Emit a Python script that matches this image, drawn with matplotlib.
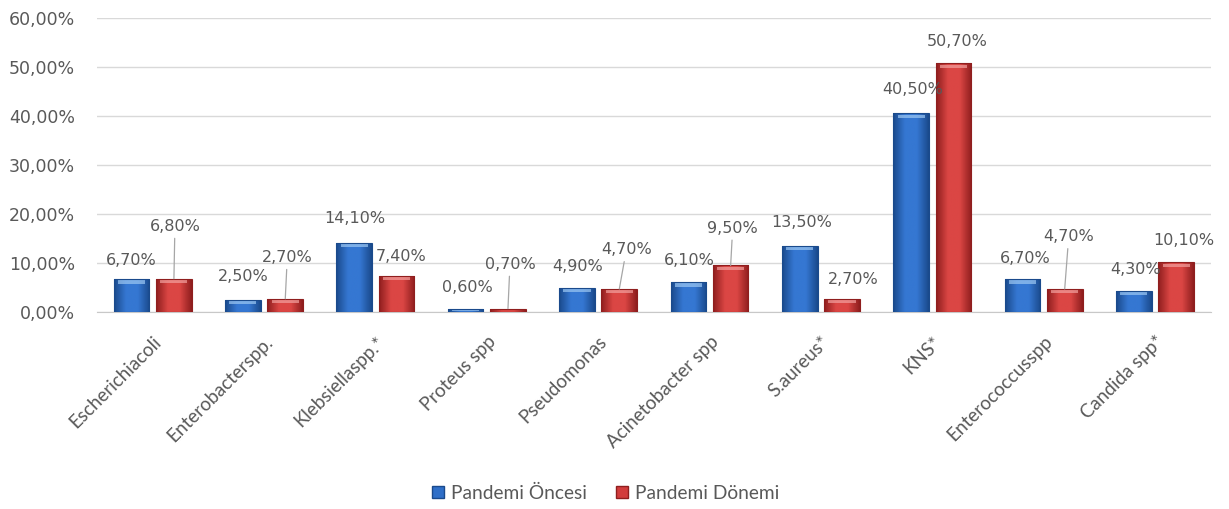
#!/usr/bin/env python3

import numpy as np
import matplotlib
matplotlib.use("Agg")
import matplotlib.pyplot as plt
from matplotlib.colors import LinearSegmentedColormap
from matplotlib.patches import Patch

categories = ["Escherichiacoli", "Enterobacterspp.", "Klebsiellaspp.*", "Proteus spp",
              "Pseudomonas", "Acinetobacter spp", "S.aureus*", "KNS*",
              "Enterococcusspp", "Candida spp*"]
oncesi = [6.7, 2.5, 14.1, 0.6, 4.9, 6.1, 13.5, 40.5, 6.7, 4.3]
donemi = [6.8, 2.7, 7.4, 0.7, 4.7, 9.5, 2.7, 50.7, 4.7, 10.1]
series_names = ["Pandemi Öncesi", "Pandemi Dönemi"]
yticks = [0, 10, 20, 30, 40, 50, 60]

# label placement (pixels from bar top) and leader-line flags
blue_off = [(0, 19), (0, 23), (1, 24), (2, 22), (1, 21), (1, 22), (2, 23), (2, 24), (3, 21), (2, 21)]
red_off = [(1, 52), (2, 41), (5, 19), (2, 44), (7, 39), (2, 37), (11, 19), (4, 22), (4, 52), (8, 22)]
red_leader = [True, True, False, True, True, True, False, False, True, False]

GRAY = "#595959"


def fmt(v):
    return ("%.2f%%" % v).replace(".", ",")


def shade(ax, bars, edge, mid, top):
    cmap = LinearSegmentedColormap.from_list("g", [edge, mid, mid, edge])
    grad = np.linspace(0, 1, 64).reshape(1, -1)
    for b in bars:
        x0, w, h = b.get_x(), b.get_width(), b.get_height()
        im = ax.imshow(grad, cmap=cmap, extent=[x0, x0 + w, 0, h],
                       aspect="auto", zorder=3, interpolation="bilinear")
        im.set_clip_path(b)
        # top bevel highlight
        cap = min(h * 0.5, 0.9)
        ax.fill_between([x0 + w * 0.12, x0 + w * 0.88], h - cap, h - cap * 0.25,
                        color=top, alpha=0.7, lw=0, zorder=4)
        b.set_facecolor("none")
        b.set_edgecolor(edge)
        b.set_linewidth(0.8)
        b.set_zorder(5)


def main():
    fig = plt.figure(figsize=(12.29, 5.09), dpi=100)
    ax = fig.add_axes([0.079, 0.387, 0.906, 0.578])

    x = np.arange(len(categories))
    off, w = 0.19, 0.32
    b1 = ax.bar(x - off, oncesi, w, color="#2f6fc8")
    b2 = ax.bar(x + off, donemi, w, color="#d23c3c")
    shade(ax, b1, "#1a4a8c", "#3577d2", "#9cc7f2")
    shade(ax, b2, "#8f1e1e", "#db4644", "#f2a09e")

    for i in range(len(categories)):
        ax.annotate(fmt(oncesi[i]), xy=(x[i] - off, oncesi[i]), xytext=blue_off[i],
                    textcoords="offset pixels", ha="center", va="center",
                    fontsize=11.5, color=GRAY, zorder=6)
        props = None
        if red_leader[i]:
            props = dict(arrowstyle="-", color="#a6a6a6", lw=0.9, shrinkA=1, shrinkB=0)
        ax.annotate(fmt(donemi[i]), xy=(x[i] + off, donemi[i]), xytext=red_off[i],
                    textcoords="offset pixels", ha="center", va="center",
                    fontsize=11.5, color=GRAY, zorder=6, arrowprops=props)

    ax.set_xlim(-0.5, len(categories) - 0.5)
    ax.set_ylim(0, 60)
    ax.set_yticks(yticks)
    ax.set_yticklabels([fmt(v) for v in yticks], fontsize=12.5, color=GRAY)
    ax.yaxis.grid(True, color="#d9d9d9", lw=1)
    ax.set_axisbelow(True)
    ax.set_xticks(x)
    ax.set_xticklabels(categories, rotation=45, ha="right", rotation_mode="anchor",
                       fontsize=13.5, color=GRAY, family=["Lato", "DejaVu Sans"])
    ax.tick_params(axis="both", length=0)
    ax.tick_params(axis="y", pad=16)
    ax.tick_params(axis="x", pad=15)
    for s in ["top", "right", "left"]:
        ax.spines[s].set_visible(False)
    ax.spines["bottom"].set_color("#c8c8c8")

    handles = [Patch(facecolor="#2f6fc8", edgecolor="#1a4a8c"),
               Patch(facecolor="#d23c3c", edgecolor="#8f1e1e")]
    fig.legend(handles, series_names, loc="center", bbox_to_anchor=(0.493, 0.031),
               ncol=2, frameon=False, handlelength=0.6, handleheight=0.6,
               handletextpad=0.4, columnspacing=1.5,
               prop={"family": ["Lato", "DejaVu Sans"], "size": 13.8}, labelcolor=GRAY)

    fig.savefig("out.png", dpi=100)


if __name__ == '__main__':
    main()
